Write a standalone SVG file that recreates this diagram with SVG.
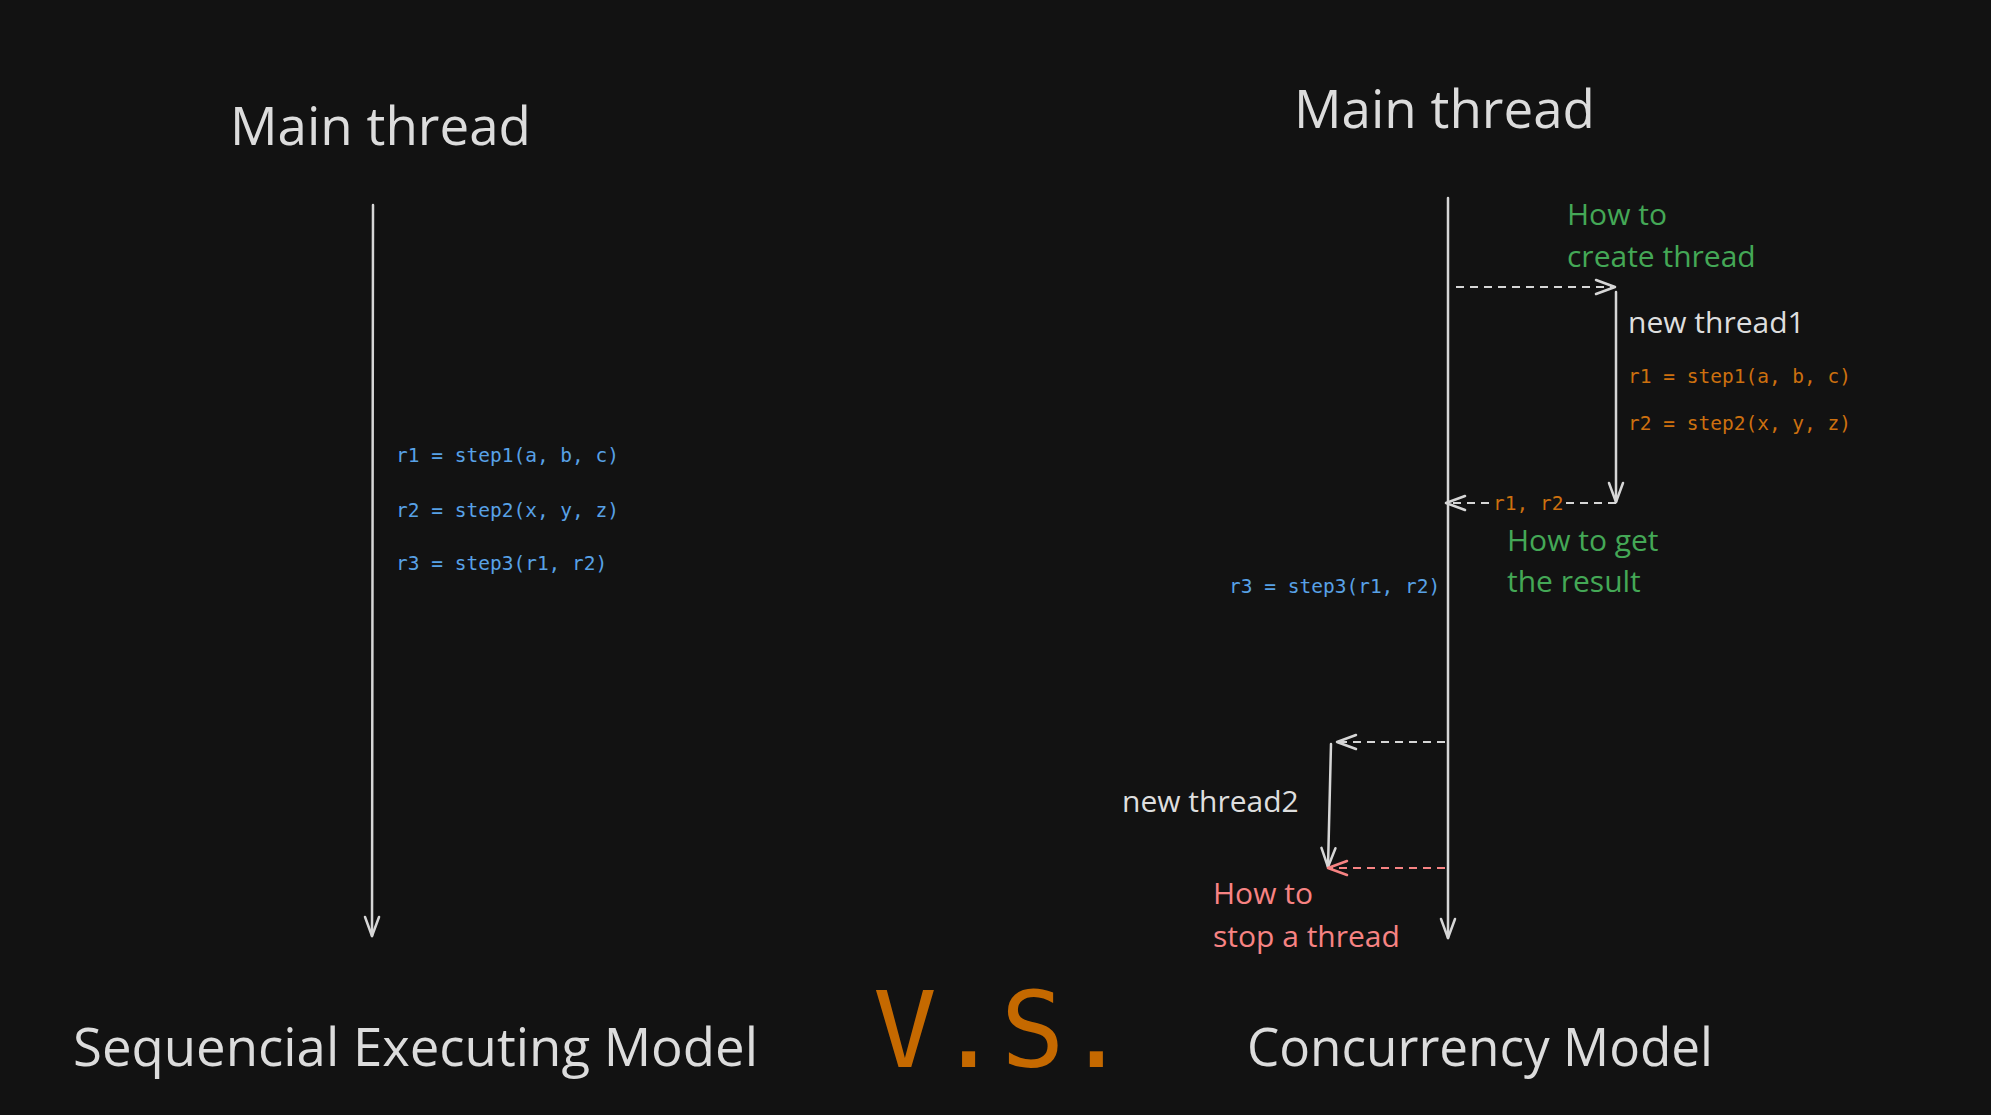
<svg xmlns="http://www.w3.org/2000/svg" width="1991" height="1115" viewBox="0 0 1991 1115">
<style>
.bg{fill:#121212}
.title{font-family:"Open Sans","Noto Sans",sans-serif;fill:#dcdcdc;font-size:53px}
.label{font-family:"Open Sans","Noto Sans",sans-serif;font-size:30px}
.white{fill:#dedede}
.green{fill:#44a856}
.red{fill:#f78383}
.code{font-family:"DejaVu Sans Mono","Liberation Mono",monospace;font-size:19.5px}
.blue{fill:#58a1e6}
.orange{fill:#cd700f}
.line{stroke:#d6d6d6;stroke-width:2.5;fill:none;stroke-linecap:round}
.dash{stroke:#d6d6d6;stroke-width:2;fill:none;stroke-dasharray:8 6}
.dashred{stroke:#f78383;stroke-width:2;fill:none;stroke-dasharray:8 6}
.vs{font-family:"DejaVu Sans Mono","Liberation Mono",monospace;font-size:106px;fill:#c56900}
</style>
<defs>
<marker id="ah" markerUnits="userSpaceOnUse" markerWidth="40" markerHeight="40" refX="0" refY="0" orient="auto" overflow="visible">
<path d="M-19,-7 L0,0 L-19,7" fill="none" stroke="#d6d6d6" stroke-width="2.5" stroke-linecap="round" stroke-linejoin="round"/>
</marker>
<marker id="ahred" markerUnits="userSpaceOnUse" markerWidth="40" markerHeight="40" refX="0" refY="0" orient="auto" overflow="visible">
<path d="M-19,-7 L0,0 L-19,7" fill="none" stroke="#f78383" stroke-width="2.5" stroke-linecap="round" stroke-linejoin="round"/>
</marker>
</defs>
<rect class="bg" x="0" y="0" width="1991" height="1115"/>

<g id="seq-title"><text class="title" x="230" y="145" textLength="301" lengthAdjust="spacingAndGlyphs">Main thread</text></g>
<g id="seq-code">
<text class="code blue" x="396" y="462">r1 = step1(a, b, c)</text>
<text class="code blue" x="396" y="517">r2 = step2(x, y, z)</text>
<text class="code blue" x="396" y="570">r3 = step3(r1, r2)</text>
</g>
<g id="seq-caption"><text class="title" x="73" y="1066" textLength="685" lengthAdjust="spacingAndGlyphs">Sequencial Executing Model</text></g>

<g id="vs"><text class="vs" x="873" y="1067">V.S.</text></g>

<g id="con-title"><text class="title" x="1294" y="128" textLength="301" lengthAdjust="spacingAndGlyphs">Main thread</text></g>
<g id="con-create-note">
<text class="label green" x="1567" y="225">How to</text>
<text class="label green" x="1567" y="267">create thread</text>
</g>
<g id="con-thread1">
<text class="label white" x="1628" y="333">new thread1</text>
<text class="code orange" x="1628" y="383">r1 = step1(a, b, c)</text>
<text class="code orange" x="1628" y="430">r2 = step2(x, y, z)</text>
</g>
<g id="con-result-note">
<text class="label green" x="1507" y="551">How to get</text>
<text class="label green" x="1507" y="592">the result</text>
</g>
<g id="con-r3"><text class="code blue" x="1229" y="593">r3 = step3(r1, r2)</text></g>
<g id="con-thread2"><text class="label white" x="1122" y="812">new thread2</text></g>
<g id="con-stop-note">
<text class="label red" x="1213" y="904">How to</text>
<text class="label red" x="1213" y="947">stop a thread</text>
</g>
<g id="con-bottom"><text class="title" x="1247" y="1066" textLength="466" lengthAdjust="spacingAndGlyphs">Concurrency Model</text></g>

<g id="connectors">
<line class="line" x1="373" y1="205" x2="372" y2="936" marker-end="url(#ah)"/>
<line class="line" x1="1448" y1="198" x2="1448" y2="938" marker-end="url(#ah)"/>
<line class="dash" x1="1456" y1="287" x2="1615" y2="287" marker-end="url(#ah)"/>
<line class="line" x1="1616" y1="292" x2="1616" y2="502" marker-end="url(#ah)"/>
<line class="dash" x1="1616" y1="503" x2="1566" y2="503"/>
<text class="code orange" x="1493" y="510">r1, r2</text>
<line class="dash" x1="1489" y1="503" x2="1446" y2="503" marker-end="url(#ah)"/>
<line class="dash" x1="1445" y1="742" x2="1337" y2="742" marker-end="url(#ah)"/>
<line class="line" x1="1331" y1="744" x2="1328" y2="867" marker-end="url(#ah)"/>
<line class="dashred" x1="1445" y1="868" x2="1328" y2="868" marker-end="url(#ahred)"/>
</g>
</svg>
